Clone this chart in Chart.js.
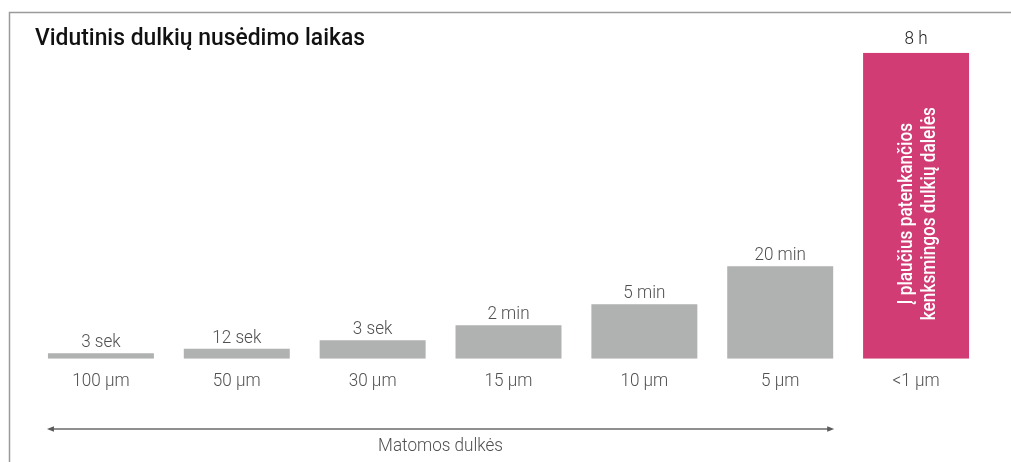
<!DOCTYPE html>
<html>
<head>
<meta charset="utf-8">
<script src="https://cdn.jsdelivr.net/npm/chart.js@4"></script>
<style>
html,body{margin:0;padding:0;background:#fff;}
#wrap{position:relative;width:1011px;height:462px;}
</style>
</head>
<body>
<div id="wrap"><canvas id="c" width="1011" height="462"></canvas></div>
<script>
// ---- data ----
const categories = ["100 µm", "50 µm", "30 µm", "15 µm", "10 µm", "5 µm", "<1 µm"];
const timeLabels = ["3 sek", "12 sek", "3 sek", "2 min", "5 min", "20 min", "8 h"];
const barHeights = [5.5, 10, 18.5, 33.5, 54.5, 92.5, 306]; // relative visual heights
const title = "Vidutinis dulkių nusėdimo laikas";
const insideLines = ["Į plaučius patenkančios", "kenksmingos dulkių dalelės"];
const arrowLabel = "Matomos dulkės";
const visibleCount = 6;

const GRAY = "#b0b1b1";
const PINK = "#d03c73";
const TXT = "#505050";
const LIGHT = "300 19px Roboto, 'Liberation Sans', sans-serif";
const SX = 0.9; // horizontal condensing for light labels

function squeezed(ctx, text, x, y, sx) {
  ctx.save();
  ctx.translate(x, y);
  ctx.scale(sx, 1);
  ctx.fillText(text, 0, 0);
  ctx.restore();
}

const decor = {
  id: "decor",
  afterDatasetsDraw(chart) {
    const ctx = chart.ctx;
    const meta = chart.getDatasetMeta(0);
    const x = chart.scales.x;
    ctx.save();
    // frame
    ctx.strokeStyle = "#9a9a9a";
    ctx.lineWidth = 1.5;
    ctx.beginPath();
    ctx.moveTo(1011, 12.5);
    ctx.lineTo(9.5, 12.5);
    ctx.lineTo(9.5, 462);
    ctx.stroke();
    // title
    ctx.fillStyle = "#111";
    ctx.font = "500 23px Roboto, sans-serif";
    ctx.textAlign = "left";
    ctx.textBaseline = "alphabetic";
    const tw = ctx.measureText(title).width;
    squeezed(ctx, title, 35, 45, 330 / tw);
    // value labels and tick labels
    ctx.font = LIGHT;
    ctx.textAlign = "center";
    meta.data.forEach((bar, i) => {
      const last = i === categories.length - 1;
      ctx.fillStyle = last ? "#222" : TXT;
      squeezed(ctx, timeLabels[i], bar.x, bar.y - (last ? 9 : 6), SX);
      ctx.fillStyle = TXT;
      squeezed(ctx, categories[i], x.getPixelForValue(i), 385.5, SX);
    });
    // text inside pink bar
    const pb = meta.data[categories.length - 1];
    const cy = (pb.y + pb.base) / 2 + 8;
    ctx.save();
    ctx.translate(pb.x + 2.5, cy);
    ctx.rotate(-Math.PI / 2);
    ctx.fillStyle = "#fff";
    ctx.font = "500 20px Roboto, sans-serif";
    ctx.textAlign = "center";
    ctx.textBaseline = "middle";
    const lw = ctx.measureText(insideLines[1]).width;
    ctx.scale(213 / lw, 1);
    ctx.fillText(insideLines[0], 0, -11.5);
    ctx.fillText(insideLines[1], 0, 11.5);
    ctx.restore();
    // arrow
    const b0 = meta.data[0], b5 = meta.data[visibleCount - 1];
    const xl = b0.x - b0.width / 2 - 1;
    const xr = b5.x + b5.width / 2 + 1;
    const ay = 429;
    ctx.strokeStyle = "#6a6a6a";
    ctx.fillStyle = "#5a5a5a";
    ctx.lineWidth = 1.5;
    ctx.beginPath();
    ctx.moveTo(xl + 4, ay);
    ctx.lineTo(xr - 4, ay);
    ctx.stroke();
    ctx.beginPath();
    ctx.moveTo(xl, ay); ctx.lineTo(xl + 7, ay - 2.8); ctx.lineTo(xl + 7, ay + 2.8); ctx.closePath();
    ctx.fill();
    ctx.beginPath();
    ctx.moveTo(xr, ay); ctx.lineTo(xr - 7, ay - 2.8); ctx.lineTo(xr - 7, ay + 2.8); ctx.closePath();
    ctx.fill();
    ctx.fillStyle = TXT;
    ctx.font = LIGHT;
    ctx.textAlign = "center";
    squeezed(ctx, arrowLabel, (xl + xr) / 2, 451, SX);
    ctx.restore();
  }
};

new Chart(document.getElementById("c"), {
  type: "bar",
  data: {
    labels: categories,
    datasets: [{
      data: barHeights,
      backgroundColor: categories.map((_, i) => i === categories.length - 1 ? PINK : GRAY),
      borderWidth: 0,
      categoryPercentage: 1,
      barPercentage: 0.78
    }]
  },
  options: {
    responsive: false,
    animation: false,
    devicePixelRatio: 1,
    layout: { padding: { left: 33, right: 27, top: 52.7, bottom: 103.3 } },
    plugins: { legend: { display: false }, tooltip: { enabled: false }, title: { display: false } },
    scales: {
      x: { display: false },
      y: { display: false, min: 0, max: 306 }
    }
  },
  plugins: [decor]
});
</script>
</body>
</html>
